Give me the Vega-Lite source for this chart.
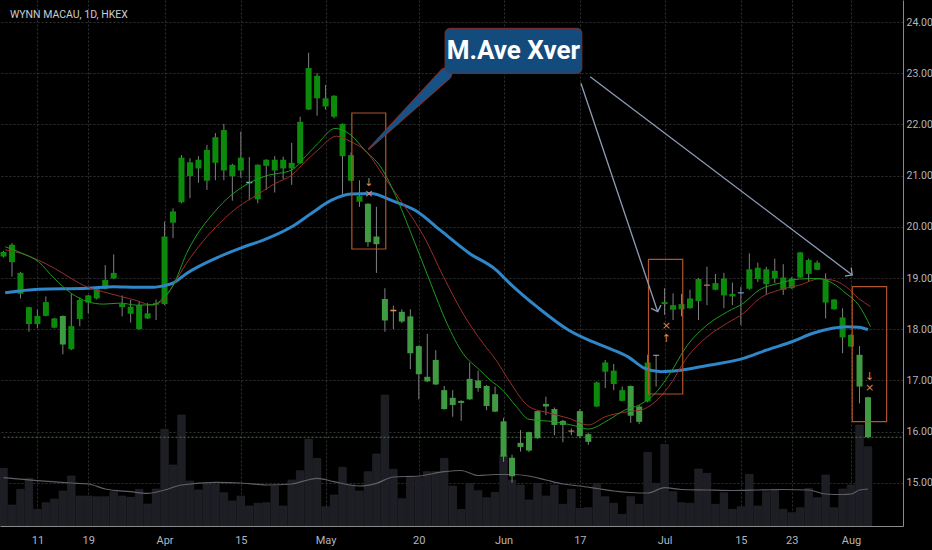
{
"$schema":"https://vega.github.io/schema/vega-lite/v6.json",
"width":903,"height":526,
"autosize":{"type":"none"},
"padding":{"left":0,"top":0,"right":29,"bottom":24},
"background":"#000000",
"config":{"view":{"stroke":null},"font":"Roboto"},
"datasets":{
"c":[
{"i":0,"k":"d","o":19.42,"c":19.51,"h":19.53,"l":19.40,"v":5.77},
{"i":1,"k":"d","o":19.31,"c":19.65,"h":19.68,"l":19.03,"v":2.1},
{"i":2,"k":"d","o":18.69,"c":19.10,"h":19.12,"l":18.60,"v":3.67},
{"i":3,"k":"d","o":18.10,"c":18.43,"h":18.44,"l":17.95,"v":4.77},
{"i":4,"k":"d","o":18.10,"c":18.26,"h":18.38,"l":18.02,"v":1.67},
{"i":5,"k":"d","o":18.26,"c":18.53,"h":18.64,"l":18.25,"v":2.33},
{"i":6,"k":"d","o":18.03,"c":18.21,"h":18.22,"l":18.02,"v":2.7},
{"i":7,"k":"l","o":18.26,"c":17.70,"h":18.27,"l":17.51,"v":3.5},
{"i":8,"k":"d","o":17.61,"c":18.06,"h":18.69,"l":17.59,"v":5.0},
{"i":9,"k":"d","o":18.20,"c":18.57,"h":18.62,"l":18.06,"v":3.0},
{"i":10,"k":"d","o":18.52,"c":18.66,"h":18.67,"l":18.31,"v":3.0},
{"i":11,"k":"d","o":18.60,"c":18.78,"h":18.80,"l":18.58,"v":2.93},
{"i":12,"k":"d","o":18.79,"c":18.96,"h":19.25,"l":18.78,"v":2.93},
{"i":13,"k":"d","o":18.99,"c":19.10,"h":19.46,"l":18.98,"v":3.43},
{"i":14,"k":"d","o":18.43,"c":18.50,"h":18.66,"l":18.25,"v":3.0},
{"i":15,"k":"d","o":18.30,"c":18.44,"h":18.57,"l":18.13,"v":2.87},
{"i":16,"k":"d","o":18.00,"c":18.47,"h":18.54,"l":17.99,"v":3.67},
{"i":17,"k":"d","o":18.21,"c":18.31,"h":18.51,"l":18.20,"v":2.2},
{"i":18,"k":"d","o":18.48,"c":18.51,"h":18.58,"l":18.18,"v":3.7},
{"i":19,"k":"d","o":18.49,"c":19.81,"h":20.10,"l":18.47,"v":9.67},
{"i":20,"k":"d","o":20.08,"c":20.30,"h":20.36,"l":19.78,"v":6.1},
{"i":21,"k":"d","o":20.48,"c":21.35,"h":21.40,"l":20.46,"v":11.1},
{"i":22,"k":"d","o":20.99,"c":21.26,"h":21.34,"l":20.56,"v":4.5},
{"i":23,"k":"d","o":21.14,"c":21.31,"h":21.38,"l":20.86,"v":3.6},
{"i":24,"k":"d","o":20.90,"c":21.50,"h":21.60,"l":20.72,"v":4.2},
{"i":25,"k":"d","o":21.25,"c":21.75,"h":21.83,"l":20.91,"v":4.2},
{"i":26,"k":"d","o":21.10,"c":21.89,"h":22.01,"l":20.91,"v":3.33},
{"i":27,"k":"d","o":20.99,"c":21.21,"h":21.23,"l":20.51,"v":2.5},
{"i":28,"k":"d","o":21.10,"c":21.35,"h":21.86,"l":20.96,"v":3.0},
{"i":29,"k":"b","o":20.88,"c":20.85,"h":21.36,"l":20.52,"v":2.0},
{"i":30,"k":"d","o":20.54,"c":21.21,"h":21.22,"l":20.46,"v":2.27},
{"i":31,"k":"d","o":21.19,"c":21.31,"h":21.32,"l":20.72,"v":2.33},
{"i":32,"k":"d","o":21.10,"c":21.31,"h":21.38,"l":20.67,"v":4.0},
{"i":33,"k":"d","o":21.14,"c":21.31,"h":21.37,"l":20.93,"v":2.0},
{"i":34,"k":"d","o":21.14,"c":21.25,"h":21.64,"l":20.82,"v":4.6},
{"i":35,"k":"d","o":21.24,"c":22.05,"h":22.15,"l":21.23,"v":5.53},
{"i":36,"k":"d","o":22.29,"c":23.10,"h":23.40,"l":22.28,"v":8.67},
{"i":37,"k":"d","o":22.51,"c":22.95,"h":23.00,"l":22.17,"v":6.77},
{"i":38,"k":"d","o":22.35,"c":22.51,"h":22.77,"l":22.29,"v":1.93},
{"i":39,"k":"d","o":22.15,"c":22.56,"h":22.57,"l":22.12,"v":3.1},
{"i":40,"k":"d","o":21.38,"c":22.01,"h":22.02,"l":20.62,"v":5.87},
{"i":41,"k":"d","o":20.90,"c":21.40,"h":21.45,"l":20.89,"v":4.1},
{"i":42,"k":"d","o":20.49,"c":20.60,"h":20.91,"l":20.39,"v":3.5},
{"i":43,"k":"l","o":20.45,"c":19.70,"h":20.46,"l":19.61,"v":5.43},
{"i":44,"k":"l","o":19.81,"c":19.66,"h":20.39,"l":19.10,"v":7.2},
{"i":45,"k":"l","o":18.59,"c":18.17,"h":18.80,"l":17.95,"v":13.1},
{"i":46,"k":"o","o":18.38,"c":18.35,"h":18.46,"l":18.00,"v":5.67},
{"i":47,"k":"l","o":18.34,"c":18.15,"h":18.39,"l":18.12,"v":2.73},
{"i":48,"k":"l","o":18.25,"c":17.53,"h":18.39,"l":17.22,"v":5.0},
{"i":49,"k":"l","o":17.67,"c":17.12,"h":17.68,"l":16.63,"v":4.87},
{"i":50,"k":"l","o":17.07,"c":16.98,"h":17.91,"l":16.97,"v":5.43},
{"i":51,"k":"l","o":17.40,"c":16.92,"h":17.59,"l":16.91,"v":5.43},
{"i":52,"k":"l","o":16.81,"c":16.44,"h":16.89,"l":16.43,"v":6.77},
{"i":53,"k":"l","o":16.66,"c":16.52,"h":16.81,"l":16.29,"v":4.0},
{"i":54,"k":"l","o":16.60,"c":16.56,"h":16.61,"l":16.21,"v":1.67},
{"i":55,"k":"l","o":17.03,"c":16.63,"h":17.35,"l":16.62,"v":4.27},
{"i":56,"k":"l","o":17.00,"c":16.85,"h":17.19,"l":16.78,"v":3.53},
{"i":57,"k":"l","o":16.89,"c":16.50,"h":16.91,"l":16.42,"v":2.83},
{"i":58,"k":"l","o":16.73,"c":16.39,"h":16.88,"l":16.38,"v":3.37},
{"i":59,"k":"l","o":16.20,"c":15.51,"h":16.27,"l":15.41,"v":7.1},
{"i":60,"k":"l","o":15.49,"c":15.13,"h":15.55,"l":15.00,"v":4.6},
{"i":61,"k":"l","o":15.78,"c":15.70,"h":16.03,"l":15.61,"v":4.1},
{"i":62,"k":"l","o":15.99,"c":15.63,"h":16.00,"l":15.60,"v":2.6},
{"i":63,"k":"l","o":16.40,"c":15.87,"h":16.41,"l":15.86,"v":4.27},
{"i":64,"k":"l","o":16.54,"c":16.49,"h":16.68,"l":16.32,"v":3.0},
{"i":65,"k":"l","o":16.44,"c":16.13,"h":16.47,"l":15.93,"v":4.1},
{"i":66,"k":"l","o":16.21,"c":16.13,"h":16.23,"l":15.79,"v":2.17},
{"i":67,"k":"o","o":16.02,"c":16.00,"h":16.06,"l":15.93,"v":3.67},
{"i":68,"k":"l","o":16.40,"c":15.91,"h":16.44,"l":15.87,"v":1.77},
{"i":69,"k":"l","o":15.95,"c":15.80,"h":15.98,"l":15.74,"v":1.83},
{"i":70,"k":"d","o":16.49,"c":16.96,"h":16.98,"l":16.48,"v":4.27},
{"i":71,"k":"d","o":17.17,"c":17.35,"h":17.40,"l":16.85,"v":2.93},
{"i":72,"k":"d","o":16.93,"c":17.19,"h":17.32,"l":16.81,"v":2.27},
{"i":73,"k":"d","o":16.60,"c":16.81,"h":16.88,"l":16.59,"v":1.17},
{"i":74,"k":"l","o":16.89,"c":16.31,"h":16.90,"l":16.17,"v":2.93},
{"i":75,"k":"l","o":16.49,"c":16.19,"h":16.52,"l":16.15,"v":2.17},
{"i":76,"k":"d","o":16.59,"c":17.35,"h":17.50,"l":16.57,"v":7.37},
{"i":77,"k":"b","o":17.50,"c":17.48,"h":17.50,"l":16.88,"v":4.27},
{"i":78,"k":"d","o":18.49,"c":18.53,"h":18.80,"l":18.28,"v":8.17},
{"i":79,"k":"d","o":18.38,"c":18.47,"h":18.70,"l":18.18,"v":3.43},
{"i":80,"k":"d","o":18.39,"c":18.49,"h":18.69,"l":18.25,"v":2.33},
{"i":81,"k":"d","o":18.41,"c":18.60,"h":18.77,"l":18.40,"v":2.27},
{"i":82,"k":"d","o":18.55,"c":18.98,"h":19.00,"l":18.18,"v":5.7},
{"i":83,"k":"o","o":18.87,"c":18.85,"h":19.22,"l":18.47,"v":5.27},
{"i":84,"k":"d","o":18.77,"c":18.90,"h":19.08,"l":18.76,"v":2.17},
{"i":85,"k":"d","o":18.66,"c":18.99,"h":19.10,"l":18.41,"v":3.33},
{"i":86,"k":"d","o":18.64,"c":18.69,"h":18.91,"l":18.47,"v":1.67},
{"i":87,"k":"b","o":18.72,"c":18.70,"h":18.83,"l":18.08,"v":1.93},
{"i":88,"k":"d","o":18.79,"c":19.17,"h":19.48,"l":18.77,"v":5.17},
{"i":89,"k":"d","o":18.98,"c":19.20,"h":19.30,"l":18.92,"v":2.0},
{"i":90,"k":"d","o":18.88,"c":19.17,"h":19.22,"l":18.68,"v":3.43},
{"i":91,"k":"d","o":18.99,"c":19.14,"h":19.38,"l":18.90,"v":3.67},
{"i":92,"k":"d","o":18.77,"c":19.01,"h":19.27,"l":18.67,"v":1.67},
{"i":93,"k":"d","o":18.80,"c":18.99,"h":19.02,"l":18.79,"v":1.33},
{"i":94,"k":"d","o":19.01,"c":19.50,"h":19.51,"l":19.00,"v":1.83},
{"i":95,"k":"d","o":19.08,"c":19.35,"h":19.38,"l":18.93,"v":3.77},
{"i":96,"k":"d","o":19.16,"c":19.30,"h":19.34,"l":19.15,"v":2.83},
{"i":97,"k":"d","o":18.52,"c":18.96,"h":19.09,"l":18.21,"v":5.1},
{"i":98,"k":"d","o":18.39,"c":18.58,"h":18.59,"l":18.38,"v":1.83},
{"i":99,"k":"d","o":17.84,"c":18.23,"h":18.41,"l":17.53,"v":3.7},
{"i":100,"k":"d","o":17.66,"c":17.89,"h":17.90,"l":17.65,"v":4.1},
{"i":101,"k":"l","o":17.50,"c":16.88,"h":17.67,"l":16.55,"v":10.1},
{"i":102,"k":"l","o":16.67,"c":15.89,"h":16.68,"l":15.87,"v":7.93}
],
"vma":[
{"i":0,"v":4.83},{"i":4,"v":4.53},{"i":8,"v":4.3},{"i":10,"v":4.2},{"i":12,"v":3.7},{"i":15,"v":3.43},{"i":17,"v":3.27},{"i":19,"v":3.6},{"i":21,"v":4.1},{"i":25,"v":4.37},{"i":28,"v":4.3},{"i":31,"v":4.1},{"i":34,"v":4.2},{"i":37,"v":4.77},{"i":39,"v":4.43},{"i":42,"v":4.0},{"i":44,"v":4.27},{"i":46,"v":4.9},{"i":49,"v":5.0},{"i":52,"v":5.43},{"i":54,"v":5.55},{"i":56,"v":5.05},{"i":58,"v":5.15},{"i":60,"v":5.15},{"i":62,"v":5.0},{"i":64,"v":4.6},{"i":66,"v":4.2},{"i":68,"v":4.0},{"i":70,"v":3.75},{"i":72,"v":3.5},{"i":74,"v":3.35},{"i":76,"v":3.3},{"i":78,"v":3.83},{"i":80,"v":3.65},{"i":83,"v":3.6},{"i":86,"v":3.55},{"i":89,"v":3.6},{"i":92,"v":3.65},{"i":95,"v":3.6},{"i":97,"v":3.2},{"i":99,"v":3.15},{"i":100,"v":3.2},{"i":101,"v":3.6},{"i":102,"v":3.7}
],
"slow":[
{"i":0.2,"p":18.71},{"i":4.1,"p":18.78},{"i":9.9,"p":18.80},{"i":13,"p":18.83},{"i":15.7,"p":18.82},{"i":17.7,"p":18.82},{"i":19.2,"p":18.86},{"i":20,"p":18.90},{"i":21.6,"p":19.09},{"i":25.5,"p":19.42},{"i":28.2,"p":19.60},{"i":30.5,"p":19.73},{"i":34,"p":20.00},{"i":36.3,"p":20.26},{"i":38.7,"p":20.52},{"i":41,"p":20.64},{"i":43.4,"p":20.65},{"i":45.7,"p":20.52},{"i":48.8,"p":20.30},{"i":51.5,"p":19.94},{"i":55,"p":19.48},{"i":58.1,"p":19.16},{"i":59.7,"p":18.90},{"i":63,"p":18.43},{"i":66.7,"p":17.98},{"i":69,"p":17.79},{"i":71.4,"p":17.63},{"i":73.7,"p":17.46},{"i":75.6,"p":17.24},{"i":77.6,"p":17.17},{"i":79.9,"p":17.20},{"i":83.4,"p":17.30},{"i":87.3,"p":17.43},{"i":90,"p":17.59},{"i":93.1,"p":17.76},{"i":95.5,"p":17.92},{"i":97.8,"p":18.02},{"i":99.4,"p":18.05},{"i":100.9,"p":18.04},{"i":102,"p":17.99}
],
"mid":[
{"i":0.2,"p":19.55},{"i":2.1,"p":19.48},{"i":4.1,"p":19.35},{"i":6,"p":19.19},{"i":8,"p":18.99},{"i":9.9,"p":18.82},{"i":11.8,"p":18.73},{"i":13.8,"p":18.64},{"i":15.7,"p":18.56},{"i":17.5,"p":18.47},{"i":18.8,"p":18.57},{"i":19.6,"p":18.75},{"i":21.6,"p":19.29},{"i":25.5,"p":20.07},{"i":28.2,"p":20.45},{"i":29.3,"p":20.56},{"i":32.1,"p":20.85},{"i":34,"p":21.01},{"i":35.6,"p":21.27},{"i":37.1,"p":21.50},{"i":39.3,"p":21.77},{"i":41,"p":21.66},{"i":42.6,"p":21.50},{"i":44.9,"p":20.98},{"i":47.2,"p":20.43},{"i":49.6,"p":19.81},{"i":51.9,"p":19.03},{"i":54.2,"p":18.31},{"i":56.6,"p":17.72},{"i":58.1,"p":17.40},{"i":59.7,"p":16.98},{"i":62,"p":16.49},{"i":64.4,"p":16.36},{"i":66.7,"p":16.26},{"i":69,"p":16.13},{"i":71,"p":16.29},{"i":73.7,"p":16.39},{"i":75.2,"p":16.42},{"i":76.8,"p":16.57},{"i":78.5,"p":16.88},{"i":80.7,"p":17.46},{"i":83,"p":17.85},{"i":85.4,"p":18.12},{"i":87.3,"p":18.31},{"i":89.2,"p":18.60},{"i":91.6,"p":18.77},{"i":93.9,"p":18.86},{"i":96.2,"p":18.98},{"i":97.8,"p":18.96},{"i":99.4,"p":18.83},{"i":100.9,"p":18.60},{"i":102.3,"p":18.44}
],
"fast":[
{"i":0.2,"p":19.61},{"i":2.1,"p":19.49},{"i":4.1,"p":19.32},{"i":6,"p":18.99},{"i":8,"p":18.70},{"i":9.9,"p":18.54},{"i":11.8,"p":18.49},{"i":13.8,"p":18.51},{"i":15.7,"p":18.47},{"i":17.7,"p":18.48},{"i":18.8,"p":18.60},{"i":20,"p":18.85},{"i":21.6,"p":19.48},{"i":25.1,"p":20.33},{"i":28.2,"p":20.78},{"i":30.9,"p":20.99},{"i":34,"p":21.11},{"i":35.6,"p":21.37},{"i":37.1,"p":21.63},{"i":39.1,"p":21.92},{"i":41,"p":21.79},{"i":42.6,"p":21.50},{"i":44.5,"p":21.17},{"i":46.5,"p":20.52},{"i":48.4,"p":19.74},{"i":50.4,"p":18.90},{"i":52.3,"p":18.12},{"i":54.2,"p":17.53},{"i":56.2,"p":17.20},{"i":57.4,"p":17.01},{"i":58.9,"p":16.81},{"i":60.5,"p":16.49},{"i":62,"p":16.24},{"i":65.1,"p":16.19},{"i":67.5,"p":16.11},{"i":69,"p":16.05},{"i":71.4,"p":16.23},{"i":73.3,"p":16.42},{"i":75,"p":16.52},{"i":76.8,"p":16.73},{"i":78.5,"p":17.10},{"i":80.7,"p":17.69},{"i":83,"p":18.08},{"i":85.4,"p":18.34},{"i":87.3,"p":18.51},{"i":89.2,"p":18.77},{"i":91.6,"p":18.90},{"i":93.9,"p":18.98},{"i":96.2,"p":18.99},{"i":97.8,"p":18.90},{"i":99.4,"p":18.70},{"i":100.9,"p":18.47},{"i":102.3,"p":18.05}
],
"boxes":[
{"i":41.1,"i2":45.1,"p":22.223,"p2":19.566},
{"i":76.1,"i2":80.14,"p":19.365,"p2":16.734},
{"i":100.14,"i2":104.2,"p":18.83,"p2":16.193}
],
"marks":[
{"i":43.1,"p":20.86,"t":"↓"},{"i":43.1,"p":20.64,"t":"×"},
{"i":78.2,"p":18.06,"t":"×"},{"i":78.2,"p":17.81,"t":"↑"},
{"i":102.2,"p":17.07,"t":"↓"},{"i":102.2,"p":16.845,"t":"×"}
],
"arrows":[
{"i":68.13,"p":22.803,"i2":77.19,"p2":18.342},
{"i":69.22,"p":22.932,"i2":100.14,"p2":19.059}
],
"heads":[
{"i":77.19,"p":18.342,"a":341.2},
{"i":100.14,"p":19.059,"a":306.8}
],
"tail":[
{"i":52.2,"p":22.99,"w":11,"wo":13},
{"i":43.1,"p":21.52,"w":0.6,"wo":1.8}
]
},
"encoding":{"x":{"field":"i","type":"quantitative","scale":{"domain":[0.175,105.54],"nice":false,"zero":false},
 "axis":{"values":[4,10,19,28,38,49,59,68,78,87,93,100],
  "labelExpr":"['11','19','Apr','15','May','20','Jun','17','Jul','15','23','Aug'][indexof([4,10,19,28,38,49,59,68,78,87,93,100], datum.value)]",
  "title":null,"grid":true,"gridColor":"#303030","gridDash":[2,2],"ticks":false,"labelPadding":8,"labelColor":"#b2b5be","labelFontSize":11,"labelFont":"Roboto","domainColor":"#8a8a8a","labelOverlap":false}}},
"layer":[
{"encoding":{"y":{"field":"v","type":"quantitative","scale":{"domain":[0,52.6],"nice":false,"zero":true},"axis":null}},
 "layer":[
  {"data":{"name":"c"},"mark":{"type":"bar","width":7.6,"color":"#1d1e24","stroke":"#26272e","strokeWidth":0.6,"clip":true,"orient":"vertical"}},
  {"data":{"name":"vma"},"mark":{"type":"line","color":"#5f5f66","strokeWidth":1.2,"clip":true,"interpolate":"monotone"}}
 ]},
{"encoding":{"y":{"field":"p","type":"quantitative","scale":{"domain":[14.156,24.43],"nice":false,"zero":false},
   "axis":{"orient":"right","values":[15,16,17,18,19,20,21,22,23,24],"format":".2f","title":null,"grid":true,"gridColor":"#303030","gridDash":[2,2],"ticks":false,"labelPadding":3,"labelColor":"#b2b5be","labelFontSize":10.5,"labelFont":"Roboto","domainColor":"#8a8a8a"}}},
 "layer":[
  {"data":{"values":[{"i":0,"i2":106,"p":15.889}]},"mark":{"type":"rule","color":"#2b8a2b","strokeDash":[2,2],"clip":true},"encoding":{"x2":{"field":"i2"}}},
  {"data":{"name":"c"},"mark":{"type":"rule","color":"#808080","strokeWidth":1,"clip":true},
   "encoding":{"y":{"field":"l","type":"quantitative","scale":{"domain":[14.156,24.43],"nice":false,"zero":false},
   "axis":{"orient":"right","values":[15,16,17,18,19,20,21,22,23,24],"format":".2f","title":null,"grid":true,"gridColor":"#303030","gridDash":[2,2],"ticks":false,"labelPadding":3,"labelColor":"#b2b5be","labelFontSize":10.5,"labelFont":"Roboto","domainColor":"#8a8a8a"}},"y2":{"field":"h"}}},
  {"data":{"name":"c"},"mark":{"type":"bar","width":6,"clip":true,"orient":"vertical"},
   "encoding":{"y":{"field":"o","type":"quantitative","scale":{"domain":[14.156,24.43],"nice":false,"zero":false},
   "axis":{"orient":"right","values":[15,16,17,18,19,20,21,22,23,24],"format":".2f","title":null,"grid":true,"gridColor":"#303030","gridDash":[2,2],"ticks":false,"labelPadding":3,"labelColor":"#b2b5be","labelFontSize":10.5,"labelFont":"Roboto","domainColor":"#8a8a8a"}},"y2":{"field":"c"},
   "color":{"field":"k","type":"nominal","scale":{"domain":["d","l","o","b"],"range":["#0c8a0c","#3f9a42","#e0905a","#7fb2e0"]},"legend":null}}},
  {"data":{"name":"slow"},"mark":{"type":"line","color":"#2f86c8","strokeWidth":3,"interpolate":"monotone","clip":true}},
  {"data":{"name":"mid"},"mark":{"type":"line","color":"#9a2d2d","strokeWidth":1,"interpolate":"monotone","clip":true}},
  {"data":{"name":"fast"},"mark":{"type":"line","color":"#1e9b1e","strokeWidth":1,"interpolate":"monotone","clip":true}},
  {"data":{"name":"boxes"},"mark":{"type":"rect","filled":false,"color":"#b0552c","strokeWidth":1.2,"clip":true},"encoding":{"x2":{"field":"i2"},"y2":{"field":"p2"}}},
  {"data":{"name":"marks"},"mark":{"type":"text","color":"#d9854f","fontSize":11,"font":"DejaVu Sans","align":"center","baseline":"middle"},"encoding":{"text":{"field":"t"}}},
  {"data":{"name":"arrows"},"mark":{"type":"rule","color":"#8f9cb8","strokeWidth":1.3},"encoding":{"x2":{"field":"i2"},"y2":{"field":"p2"}}},
  {"data":{"name":"heads"},"mark":{"type":"point","shape":"M-0.6,-0.6L0,0L0.6,-0.6","filled":false,"size":300,"strokeWidth":1.3,"color":"#8f9cb8","opacity":1},"encoding":{"angle":{"field":"a","type":"quantitative","scale":null}}},
  {"data":{"name":"tail"},"mark":{"type":"trail","color":"#8a2a2a"},"encoding":{"size":{"field":"wo","type":"quantitative","scale":null}}},
  {"data":{"name":"tail"},"mark":{"type":"trail","color":"#165285"},"encoding":{"size":{"field":"w","type":"quantitative","scale":null}}},
  {"data":{"values":[{"i":52.1,"i2":68.24,"p":23.877,"p2":22.998}]},"mark":{"type":"rect","fill":"#134b7d","stroke":"#8a2a2a","strokeWidth":1,"cornerRadius":5},"encoding":{"x2":{"field":"i2"},"y2":{"field":"p2"}}},
  {"data":{"values":[{"i":60.15,"p":23.43,"t":"M.Ave Xver"}]},"mark":{"type":"text","color":"#ffffff","fontSize":26,"fontWeight":"bold","font":"Roboto","align":"center","baseline":"middle"},"encoding":{"text":{"field":"t"}}},
  {"data":{"values":[{"i":0.76,"p":24.137,"t":"WYNN MACAU, 1D, HKEX"}]},"mark":{"type":"text","color":"#c9ccd4","fontSize":10.5,"font":"Roboto","align":"left","baseline":"middle"},"encoding":{"text":{"field":"t"}}}
 ]}
],
"resolve":{"scale":{"y":"independent"}}
}
